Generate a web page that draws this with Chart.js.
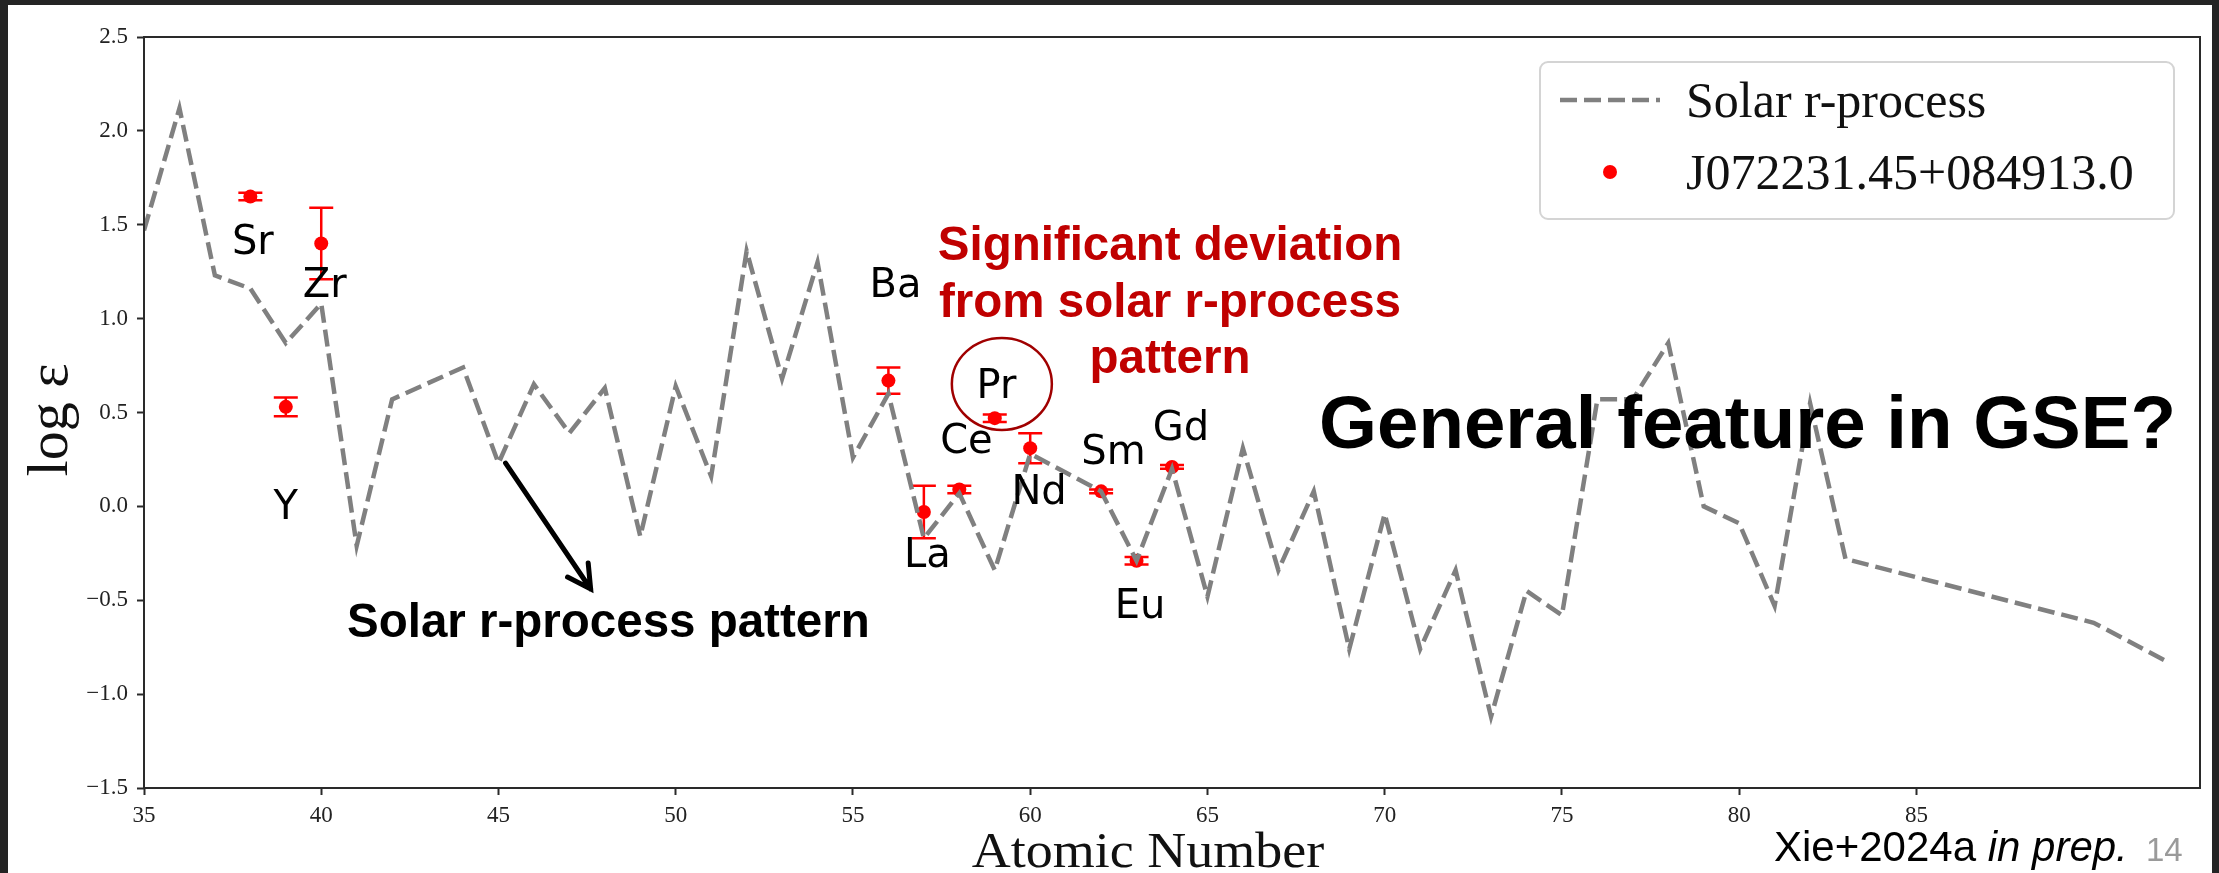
<!DOCTYPE html>
<html>
<head>
<meta charset="utf-8">
<script src="https://cdn.jsdelivr.net/npm/chart.js@4.4.1/dist/chart.umd.min.js"></script>
<style>
  html, body { margin: 0; padding: 0; background: #fff; }
  canvas { display: block; }
</style>
</head>
<body>
<canvas id="grafico_abund" width="2219" height="873"></canvas>
<script>
// solar r-process pattern (atomic number / log eps)
const solarZ = [35, 36, 37, 38, 39, 40, 41, 42, 44, 45, 46, 47, 48, 49, 50, 51, 52, 53, 54, 55,
  56, 57, 58, 59, 60, 62, 63, 64, 65, 66, 67, 68, 69, 70, 71, 72, 73, 74, 75, 76, 77, 78,
  79, 80, 81, 82, 83, 90, 92];
const solarLogEps = [1.47, 2.12, 1.23, 1.16, 0.87, 1.08, -0.21, 0.57, 0.74, 0.23, 0.65, 0.39, 0.63, -0.16, 0.64, 0.16, 1.36, 0.68, 1.30, 0.26,
  0.60, -0.17, 0.07, -0.34, 0.28, 0.08, -0.29, 0.20, -0.48, 0.31, -0.34, 0.08, -0.76, -0.04, -0.76, -0.34, -1.12, -0.45, -0.58, 0.57, 0.57, 0.87,
  0.00, -0.09, -0.53, 0.55, -0.28, -0.62, -0.82];

// J072231.45+084913.0
const starElements = ['Sr', 'Y', 'Zr', 'Ba', 'La', 'Ce', 'Pr', 'Nd', 'Sm', 'Eu', 'Gd'];
const starZ = [38, 39, 40, 56, 57, 58, 59, 60, 62, 63, 64];
const starLogEps = [1.65, 0.53, 1.40, 0.67, -0.03, 0.09, 0.47, 0.31, 0.08, -0.29, 0.21];
const starErr = [0.02, 0.05, 0.19, 0.07, 0.14, 0.02, 0.02, 0.08, 0.01, 0.02, 0.01];

// where each element name sits (data units)
const labelZ = [38.07, 39.0, 40.1, 56.2, 57.1, 58.2, 59.05, 60.25, 62.35, 63.1, 64.25];
const labelLogEps = [1.40, -0.01, 1.17, 1.17, -0.27, 0.34, 0.63, 0.07, 0.28, -0.54, 0.41];

const xTicks = [35, 40, 45, 50, 55, 60, 65, 70, 75, 80, 85];
const yTicks = [-1.5, -1.0, -0.5, 0.0, 0.5, 1.0, 1.5, 2.0, 2.5];

const fundo = {
  id: 'fundo',
  beforeDraw(chart) {
    const ctx = chart.ctx;
    ctx.save();
    ctx.fillStyle = '#fff';
    ctx.fillRect(0, 0, chart.width, chart.height);
    ctx.fillStyle = '#242424';
    ctx.fillRect(0, 0, 8, chart.height);
    ctx.fillRect(0, 0, chart.width, 5);
    ctx.fillRect(2212, 0, chart.width - 2212, chart.height);
    ctx.restore();
  }
};

const barrasErro = {
  id: 'barrasErro',
  beforeDatasetDraw(chart, args) {
    if (args.index !== 1) return;
    const x = chart.scales.x, y = chart.scales.y, ctx = chart.ctx;
    ctx.save();
    ctx.strokeStyle = 'red';
    ctx.lineWidth = 2.5;
    starZ.forEach((z, i) => {
      const px = x.getPixelForValue(z);
      const cima = y.getPixelForValue(starLogEps[i] + starErr[i]);
      const baixo = y.getPixelForValue(starLogEps[i] - starErr[i]);
      ctx.beginPath();
      ctx.moveTo(px, cima); ctx.lineTo(px, baixo);
      ctx.moveTo(px - 12, cima); ctx.lineTo(px + 12, cima);
      ctx.moveTo(px - 12, baixo); ctx.lineTo(px + 12, baixo);
      ctx.stroke();
    });
    ctx.restore();
  }
};

const molduraRotulos = {
  id: 'molduraRotulos',
  afterDatasetsDraw(chart) {
    const {ctx, chartArea: a} = chart;
    const x = chart.scales.x, y = chart.scales.y;
    ctx.save();
    ctx.strokeStyle = '#2a2a2a';
    ctx.lineWidth = 2;
    ctx.strokeRect(a.left, a.top, a.right - a.left, a.bottom - a.top);

    ctx.fillStyle = '#000';
    ctx.font = '40px "DejaVu Sans"';
    ctx.textAlign = 'center';
    ctx.textBaseline = 'middle';
    starElements.forEach((el, i) => {
      ctx.fillText(el, x.getPixelForValue(labelZ[i]), y.getPixelForValue(labelLogEps[i]));
    });

    // axis titles
    ctx.fillStyle = '#111';
    ctx.textBaseline = 'alphabetic';
    ctx.save();
    ctx.translate(1148, 867);
    ctx.scale(1.08, 1);
    ctx.font = '50px "Liberation Serif"';
    ctx.fillText('Atomic Number', 0, 0);
    ctx.restore();
    ctx.textBaseline = 'middle';
    ctx.translate(52, 420);
    ctx.rotate(-Math.PI / 2);
    ctx.font = '58px "Liberation Serif"';
    ctx.fillText('log \u03b5', 0, 0);
    ctx.restore();
  }
};

const anotacoes = {
  id: 'anotacoes',
  afterDraw(chart) {
    const ctx = chart.ctx;
    const x = chart.scales.x, y = chart.scales.y;
    ctx.save();

    // circle around Pr
    ctx.strokeStyle = '#a00000';
    ctx.lineWidth = 2.5;
    ctx.beginPath();
    ctx.ellipse(x.getPixelForValue(59.2), y.getPixelForValue(0.652), 50, 46, 0, 0, Math.PI * 2);
    ctx.stroke();

    // arrow to the solar pattern
    const x0 = x.getPixelForValue(45.2), y0 = y.getPixelForValue(0.23);
    const x1 = x.getPixelForValue(47.6), y1 = y.getPixelForValue(-0.44);
    const ang = Math.atan2(y1 - y0, x1 - x0);
    ctx.strokeStyle = '#000';
    ctx.lineWidth = 5;
    ctx.lineCap = 'round';
    ctx.beginPath();
    ctx.moveTo(x0, y0); ctx.lineTo(x1, y1);
    ctx.moveTo(x1 - 26 * Math.cos(ang - 0.5), y1 - 26 * Math.sin(ang - 0.5));
    ctx.lineTo(x1, y1);
    ctx.lineTo(x1 - 26 * Math.cos(ang + 0.5), y1 - 26 * Math.sin(ang + 0.5));
    ctx.stroke();

    ctx.textBaseline = 'alphabetic';
    ctx.fillStyle = '#c00000';
    ctx.font = 'bold 47.5px "Liberation Sans"';
    ctx.textAlign = 'center';
    ctx.fillText('Significant deviation', 1170, 260);
    ctx.fillText('from solar r-process', 1170, 317);
    ctx.fillText('pattern', 1170, 373);

    ctx.fillStyle = '#000';
    ctx.textAlign = 'left';
    ctx.fillText('Solar r-process pattern', 347, 637);

    ctx.font = 'bold 74.5px "Liberation Sans"';
    ctx.fillText('General feature in GSE?', 1319, 448);

    ctx.font = '42px "Liberation Sans"';
    ctx.fillText('Xie+2024a ', 1774, 861);
    const w = ctx.measureText('Xie+2024a ').width;
    ctx.font = 'italic 42px "Liberation Sans"';
    ctx.fillText('in prep.', 1774 + w, 861);
    ctx.fillStyle = '#9a9a9a';
    ctx.font = '33px "Liberation Sans"';
    ctx.fillText('14', 2146, 861);

    // legend
    const [linha, pontos] = chart.data.datasets;
    ctx.beginPath();
    ctx.roundRect(1540, 62, 634, 157, 8);
    ctx.fillStyle = 'rgba(255,255,255,0.8)';
    ctx.fill();
    ctx.strokeStyle = '#d4d4d4';
    ctx.lineWidth = 2;
    ctx.stroke();
    ctx.setLineDash(linha.borderDash);
    ctx.strokeStyle = linha.borderColor;
    ctx.lineWidth = linha.borderWidth;
    ctx.lineCap = 'butt';
    ctx.beginPath(); ctx.moveTo(1560, 100); ctx.lineTo(1660, 100); ctx.stroke();
    ctx.setLineDash([]);
    ctx.fillStyle = pontos.backgroundColor;
    ctx.beginPath(); ctx.arc(1610, 172, 7, 0, Math.PI * 2); ctx.fill();
    ctx.fillStyle = '#111';
    ctx.font = '50px "Liberation Serif"';
    ctx.fillText(linha.label, 1686, 117);
    ctx.fillText(pontos.label, 1686, 189);

    ctx.restore();
  }
};

const grafico = document.getElementById('grafico_abund');

new Chart(grafico, {
  type: 'scatter',
  data: {
    datasets: [{
      label: 'Solar r-process',
      data: solarZ.map((z, i) => ({x: z, y: solarLogEps[i]})),
      showLine: true,
      borderColor: '#808080',
      borderWidth: 4.5,
      borderDash: [17, 7],
      pointRadius: 0,
      tension: 0
    },
    {
      label: 'J072231.45+084913.0',
      data: starZ.map((z, i) => ({x: z, y: starLogEps[i]})),
      backgroundColor: 'red',
      borderColor: 'red',
      borderWidth: 0,
      pointRadius: 7
    }]
  },
  options: {
    responsive: false,
    animation: false,
    layout: { padding: { left: 0, top: 37, right: 19, bottom: 0 } },
    plugins: {
      legend: { display: false },
      tooltip: { enabled: false }
    },
    scales: {
      x: {
        type: 'linear',
        min: 35,
        max: 93,
        afterBuildTicks: (s) => { s.ticks = xTicks.map(v => ({value: v})); },
        afterFit: (s) => { s.height = 85; },
        grid: { drawOnChartArea: false, tickLength: 7, tickColor: '#2a2a2a', tickWidth: 2 },
        border: { display: false },
        ticks: {
          padding: 7,
          color: '#222',
          maxRotation: 0,
          font: { size: 23, family: "'Liberation Serif', serif" }
        }
      },
      y: {
        min: -1.5,
        max: 2.5,
        afterBuildTicks: (s) => { s.ticks = yTicks.map(v => ({value: v})); },
        afterFit: (s) => { s.width = 144; },
        grid: { drawOnChartArea: false, tickLength: 7, tickColor: '#2a2a2a', tickWidth: 2 },
        border: { display: false },
        ticks: {
          padding: 9,
          color: '#222',
          font: { size: 23, family: "'Liberation Serif', serif" },
          callback: (v) => (v < 0 ? '\u2212' : '') + Math.abs(v).toFixed(1)
        }
      }
    }
  },
  plugins: [fundo, barrasErro, molduraRotulos, anotacoes]
});
</script>
</body>
</html>
